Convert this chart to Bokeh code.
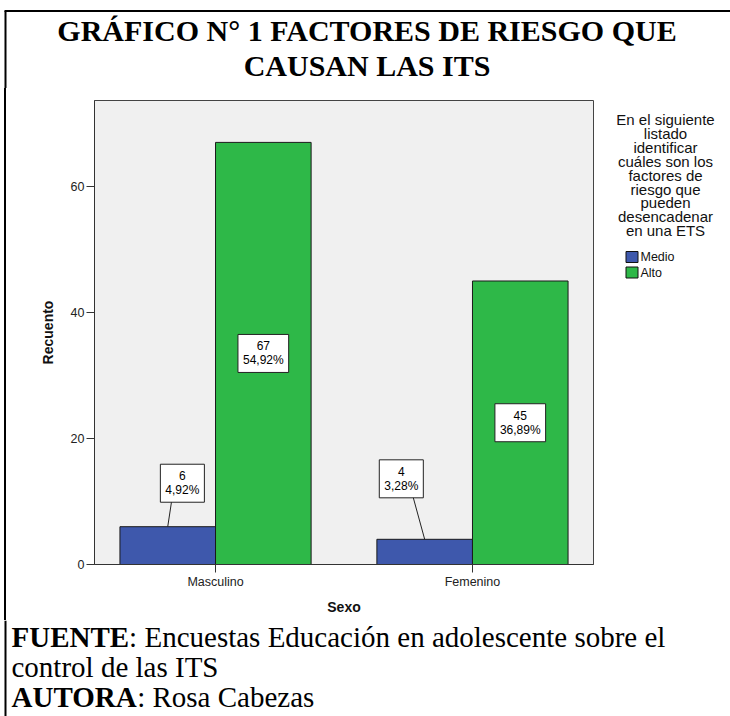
from bokeh.plotting import figure
from bokeh.models import Range1d, FixedTicker, Label, ColumnDataSource, Div
from bokeh.layouts import column, row
from bokeh.core.properties import value
from bokeh.embed import file_html
from bokeh.resources import INLINE

# ---------------- data ----------------
categories = ["Masculino", "Femenino"]
levels = ["Medio", "Alto"]
medio_counts = [6, 4]
alto_counts = [67, 45]
y_ticks = [0, 20, 40, 60]

title_lines = ["GRÁFICO N° 1 FACTORES DE RIESGO QUE", "CAUSAN LAS ITS"]
legend_title_lines = ["En el siguiente", "listado", "identificar", "cuáles son los",
                      "factores de", "riesgo que", "pueden", "desencadenar", "en una ETS"]
x_label = "Sexo"
y_label = "Recuento"
footer_bold = ["FUENTE", "", "AUTORA"]
footer_rest = [": Encuestas Educación en adolescente sobre el", "control de las ITS", ": Rosa Cabezas"]

total = sum(medio_counts) + sum(alto_counts)

def pct(v):
    return ("%.2f%%" % (100.0 * v / total)).replace(".", ",")

# ---------------- layout constants ----------------
PAGE_W = 730
TOP_H = 88          # title strip
MID_H = 532         # chart row
BOT_H = 96          # footer strip
RULE_W = 6
LEG_W = 130
MAIN_W = PAGE_W - RULE_W - LEG_W
B_TOP, B_BOT = 12, 56
BLUE = "#3E58AC"
GREEN = "#2EB848"
SANS = "Liberation Sans"
SERIF = "Liberation Serif"
BAR_W = 0.372
RULE_X = 5
RULE_Y = 10.5
TITLE_PX = 30
FOOT_PX = 29


def canvas(w, h, top=0, bottom=0):
    f = figure(width=w, height=h, output_backend="svg", toolbar_location=None,
               x_range=Range1d(0, w), y_range=Range1d(h - bottom, top),
               x_axis_location=None, y_axis_location=None,
               min_border=0, min_border_top=top, min_border_bottom=bottom,
               border_fill_color="white", background_fill_color="white")
    f.outline_line_color = None
    f.grid.visible = False
    return f

# ---------------- title strip ----------------
top = canvas(PAGE_W, TOP_H)
top.segment(x0=[RULE_X - 1], y0=[RULE_Y], x1=[PAGE_W], y1=[RULE_Y], line_color="black", line_width=2)
top.segment(x0=[RULE_X], y0=[RULE_Y], x1=[RULE_X], y1=[TOP_H], line_color="black", line_width=2)
top.text(x=[366.5] * len(title_lines), y=[30 + 35 * i for i in range(len(title_lines))],
         text=title_lines, text_align="center", text_baseline="middle",
         text_font=value(SERIF), text_font_size="%spx" % TITLE_PX, text_font_style="bold",
         text_color="black")

# ---------------- left rule (plain html strip) ----------------
rule = Div(width=RULE_W, height=MID_H, margin=0,
           text='<div style="margin-left:4px;width:2px;height:%dpx;background:#000"></div>' % MID_H)

# ---------------- main chart ----------------
p = figure(width=MAIN_W, height=MID_H, output_backend="svg", toolbar_location=None,
           x_range=Range1d(0.029, 1.971), y_range=Range1d(0, 73.65),
           min_border_left=94 - RULE_W, min_border_right=MAIN_W - (94 - RULE_W) - 499,
           min_border_top=B_TOP, min_border_bottom=B_BOT)
p.background_fill_color = "#F0F0F0"
p.border_fill_color = "white"
p.outline_line_color = "#444444"
p.grid.visible = False

centers = [i + 0.5 for i in range(len(categories))]
src_m = ColumnDataSource(dict(x=[c - BAR_W / 2 for c in centers], top=medio_counts))
src_a = ColumnDataSource(dict(x=[c + BAR_W / 2 for c in centers], top=alto_counts))
p.vbar(x="x", top="top", width=BAR_W, bottom=0, source=src_m,
       fill_color=BLUE, line_color="#1a1a1a", line_width=1)
p.vbar(x="x", top="top", width=BAR_W, bottom=0, source=src_a,
       fill_color=GREEN, line_color="#1a1a1a", line_width=1)

p.xaxis.ticker = FixedTicker(ticks=centers)
p.xaxis.major_label_overrides = {c: n for c, n in zip(centers, categories)}
p.yaxis.ticker = FixedTicker(ticks=y_ticks)
for ax in (p.xaxis, p.yaxis):
    ax.minor_tick_line_color = None
    ax.major_tick_in = 0
    ax.major_tick_out = 8
    ax.axis_line_color = "#333333"
    ax.major_tick_line_color = "#333333"
    ax.major_label_text_font = SANS
    ax.major_label_text_font_size = "12.5px"
    ax.major_label_text_color = "#222222"
    ax.axis_label_text_font = SANS
    ax.axis_label_text_font_size = "14px"
    ax.axis_label_text_font_style = "bold"
    ax.axis_label_text_color = "#111111"
p.xaxis.axis_label = x_label
p.yaxis.axis_label = y_label
p.xaxis.major_label_standoff = 2
p.yaxis.major_label_standoff = 2
p.xaxis.axis_label_standoff = 7
p.yaxis.axis_label_standoff = 12


def box_label(x, y, text):
    return Label(x=x, y=y, text=text, text_align="center", text_baseline="middle",
                 text_font=SANS, text_font_size="12px", text_color="black",
                 text_line_height=1.0,
                 background_fill_color="white", border_line_color="#222222",
                 border_line_width=1, padding=5)

for c, v in zip(centers, alto_counts):
    p.add_layout(box_label(c + BAR_W / 2, v / 2, "%d\n%s" % (v, pct(v))))

lab_dx = [0.057, -0.091]
lab_dy = [6.9, 9.6]
line_dx = [0.016, -0.047]
half_h = 2.6
for c, v, dx, dy, ldx in zip(centers, medio_counts, lab_dx, lab_dy, line_dx):
    bx = c - BAR_W / 2
    lx, ly = bx + dx, v + dy
    p.segment(x0=[bx + ldx], y0=[ly - half_h], x1=[bx], y1=[v],
              line_color="#222222", line_width=1)
    p.add_layout(box_label(lx, ly, "%d\n%s" % (v, pct(v))))

# ---------------- legend strip (same top/bottom borders as the chart) ----------------
leg = canvas(LEG_W, MID_H, top=B_TOP, bottom=B_BOT)
leg_cx = 65
leg.text(x=[leg_cx] * len(legend_title_lines),
         y=[119 - TOP_H + 13.9 * i for i in range(len(legend_title_lines))],
         text=legend_title_lines, text_align="center", text_baseline="middle",
         text_font=value(SANS), text_font_size="15px", text_color="#111111")
sw_y = [256.5 - TOP_H + 15.5 * i for i in range(len(levels))]
leg.rect(x=[31.5] * len(levels), y=sw_y, width=12, height=11,
         fill_color=[BLUE, GREEN], line_color="#111111", line_width=1)
leg.text(x=[40] * len(levels), y=sw_y, text=levels, text_align="left", text_baseline="middle",
         text_font=value(SANS), text_font_size="12.5px", text_color="#111111")

# ---------------- footer strip ----------------
bot = canvas(PAGE_W, BOT_H)
bot.segment(x0=[RULE_X], y0=[0], x1=[RULE_X], y1=[BOT_H], line_color="black", line_width=2)
fy = [636 - (TOP_H + MID_H) + 30 * i for i in range(len(footer_rest))]
bold_em = [4.056, 0.0, 4.333]   # advance widths of the bold words (Times bold, em)
bot.text(x=[11] * len(footer_bold), y=fy, text=footer_bold, text_align="left",
         text_baseline="middle", text_font=value(SERIF), text_font_size="%spx" % FOOT_PX,
         text_font_style="bold", text_color="black")
bot.text(x=[11 + w * FOOT_PX for w in bold_em], y=fy, text=footer_rest, text_align="left",
         text_baseline="middle", text_font=value(SERIF), text_font_size="%spx" % FOOT_PX,
         text_color="black")

layout = column(top, row(rule, p, leg), bot)
open("out.html", "w").write(file_html(layout, INLINE))
